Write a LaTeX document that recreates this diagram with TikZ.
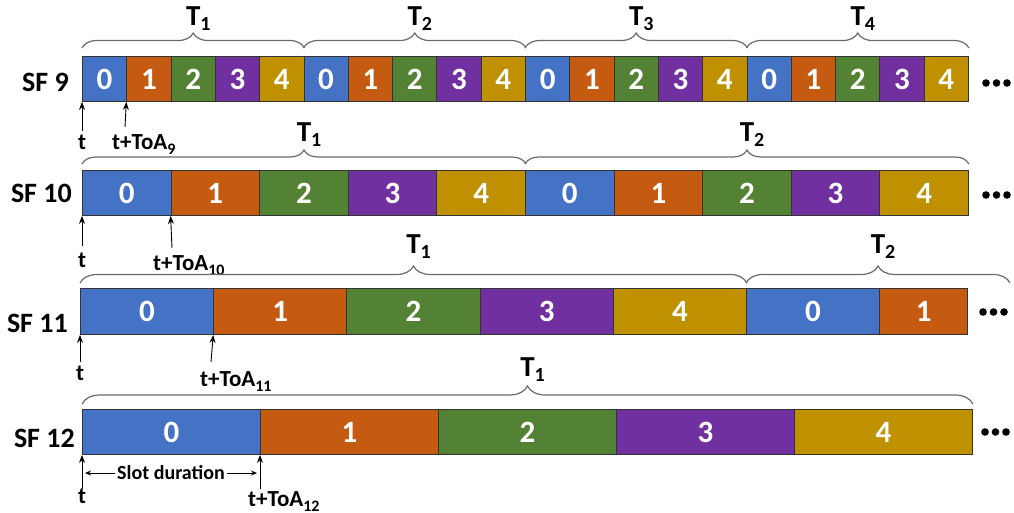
\documentclass[tikz,border=0pt]{standalone}
\usepackage{fontspec}
\setmainfont{Carlito}
\usetikzlibrary{decorations.pathreplacing,arrows.meta,calc}

\definecolor{slot0}{HTML}{4472C4}
\definecolor{slot1}{HTML}{C55A11}
\definecolor{slot2}{HTML}{548235}
\definecolor{slot3}{HTML}{7030A0}
\definecolor{slot4}{HTML}{BF9000}
\definecolor{bracegray}{HTML}{6A6A6A}

% period label: T with a lowered index that does not shift the centring
\newcommand{\mytsub}[1]{T\rlap{\raisebox{-5pt}{\fontsize{20}{20}\selectfont #1}}}
% lowered index for the ToA labels
\newcommand{\myasub}[1]{\raisebox{-5pt}{\fontsize{16}{16}\selectfont #1}}

\begin{document}
\begin{tikzpicture}[x=1pt,y=-1pt,
  slotbox/.style={draw=black!80, line width=0.9pt, inner sep=0pt, anchor=north west,
    minimum height=45pt, text=white, font=\fontsize{31}{33}\selectfont\bfseries},
  sflab/.style={anchor=base east, inner sep=0pt, font=\fontsize{28}{30}\selectfont\bfseries},
  brc/.style={decorate, decoration={brace, amplitude=#1}, draw=bracegray, line width=1.2pt},
  tlab/.style={midway, anchor=south, above=#1, inner sep=0pt, font=\fontsize{29}{31}\selectfont\bfseries},
  tarr/.style={-{Stealth[length=8pt,width=6pt]}, line width=0.9pt, black},
  tlbl/.style={anchor=base, inner sep=0pt, font=\fontsize{23}{25}\selectfont\bfseries},
  albl/.style={anchor=base west, inner sep=0pt, font=\fontsize{23}{25}\selectfont\bfseries},
  dot/.style={fill=black}
]
\useasboundingbox (0,0) rectangle (1014,513);

% ---------------- SF 9 ----------------
\node[sflab] (l9) at (69,92) {SF 9};
\foreach \k in {0,...,19} {
  \pgfmathtruncatemacro\c{mod(\k,5)}
  \node[slotbox, minimum width=44.3pt, fill=slot\c] (a\k) at ({82+44.3*\k},56) {\c};
}
\draw[brc=15pt] ([yshift=8pt]a0.north west) -- ([yshift=8pt]a4.north east)
  node[tlab=17pt] (p9a) {\mytsub{1}};
\draw[brc=15pt] ([yshift=8pt]a5.north west) -- ([yshift=8pt]a9.north east)
  node[tlab=17pt] (p9b) {\mytsub{2}};
\draw[brc=15pt] ([yshift=8pt]a10.north west) -- ([yshift=8pt]a14.north east)
  node[tlab=17pt] (p9c) {\mytsub{3}};
\draw[brc=15pt] ([yshift=8pt]a15.north west) -- ([yshift=8pt]a19.north east)
  node[tlab=17pt] (p9d) {\mytsub{4}};
\coordinate (s9) at (82,131);
\coordinate (q9) at (125,127);
\draw[tarr] (s9) -- (a0.south west);
\draw[tarr] (q9) -- (a1.south west);
\node[tlbl] (t9) at (82,150) {t};
\node[albl] (u9) at (112,150) {t+ToA\myasub{9}};
\foreach \i in {0,1,2} \fill[dot] ({986+10.5*\i},83) circle (3.8pt);

% ---------------- SF 10 ----------------
\node[sflab] (l10) at (72,203) {SF 10};
\foreach \k in {0,...,9} {
  \pgfmathtruncatemacro\c{mod(\k,5)}
  \node[slotbox, minimum width=88.6pt, fill=slot\c] (b\k) at ({82+88.6*\k},170) {\c};
}
\draw[brc=14pt] ([yshift=6pt]b0.north west) -- ([yshift=6pt]b4.north east)
  node[tlab=17pt] (p10a) {\mytsub{1}};
\draw[brc=14pt] ([yshift=6pt]b5.north west) -- ([yshift=6pt]b9.north east)
  node[tlab=17pt] (p10b) {\mytsub{2}};
\coordinate (s10) at (82,246);
\coordinate (q10) at (172,248);
\draw[tarr] (s10) -- (b0.south west);
\draw[tarr] (q10) -- (b1.south west);
\node[tlbl] (t10) at (82,267) {t};
\node[albl] (u10) at (153,270) {t+ToA\myasub{10}};
\foreach \i in {0,1,2} \fill[dot] ({986+10.5*\i},195) circle (3.8pt);

% ---------------- SF 11 ----------------
\node[sflab] (l11) at (68,332) {SF 11};
\foreach \k in {0,...,5} {
  \pgfmathtruncatemacro\c{mod(\k,5)}
  \node[slotbox, minimum height=46pt, minimum width=133.2pt, fill=slot\c] (c\k) at ({80+133.2*\k},288) {\c};
}
\node[slotbox, minimum height=46pt, minimum width=88pt, fill=slot1] (c6) at (879.2,288) {1};
\coordinate (e11) at (1010,283);
\draw[brc=17pt] ([yshift=5pt]c0.north west) -- ([yshift=5pt]c4.north east)
  node[tlab=24pt] (p11a) {\mytsub{1}};
\draw[brc=17pt] ([yshift=5pt]c5.north west) -- (e11)
  node[tlab=24pt] (p11b) {\mytsub{2}};
\coordinate (s11) at (80,362);
\coordinate (q11) at (211,362);
\draw[tarr] (s11) -- (c0.south west);
\draw[tarr] (q11) -- (c1.south west);
\node[tlbl] (t11) at (80,380) {t};
\node[albl] (u11) at (200,386) {t+ToA\myasub{11}};
\foreach \i in {0,1,2} \fill[dot] ({983+10.5*\i},312) circle (3.8pt);

% ---------------- SF 12 ----------------
\node[sflab] (l12) at (75,447) {SF 12};
\foreach \k in {0,...,4} {
  \node[slotbox, minimum width=178pt, fill=slot\k] (d\k) at ({82+178*\k},409) {\k};
}
\draw[brc=18pt] ([yshift=5pt]d0.north west) -- ([yshift=5pt]d4.north east)
  node[tlab=22pt] (p12a) {\mytsub{1}};
\coordinate (s12) at (82,489);
\coordinate (q12) at (260,489);
\draw[tarr] (s12) -- (d0.south west);
\draw[tarr] (q12) -- (d1.south west);
\coordinate (w1) at (85,473);
\coordinate (w2) at (257,473);
\draw[{Stealth[length=6pt,width=5pt]}-{Stealth[length=6pt,width=5pt]}, line width=0.9pt] (w1) -- (w2)
  node[midway, fill=white, inner sep=2pt, font=\fontsize{20}{22}\selectfont\bfseries] (sd) {Slot duration};
\node[tlbl] (t12) at (82,503) {t};
\node[albl] (u12) at (248,506) {t+ToA\myasub{12}};
\foreach \i in {0,1,2} \fill[dot] ({985+10.5*\i},432) circle (3.8pt);
\end{tikzpicture}
\end{document}
